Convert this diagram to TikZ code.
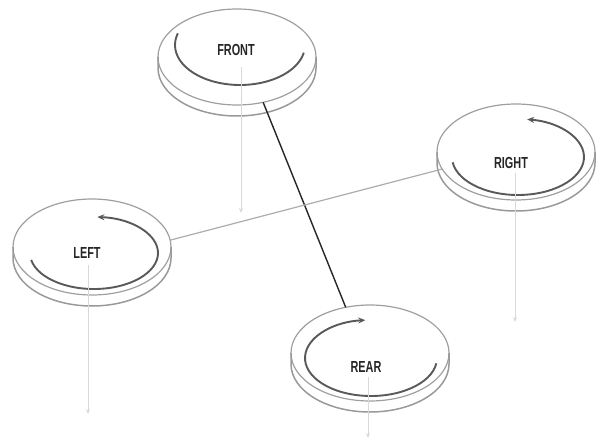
\documentclass[tikz,border=0pt]{standalone}
\usepackage{fontspec}
\setmainfont{Liberation Sans}
\usetikzlibrary{shapes.geometric,arrows.meta,calc}

\begin{document}
\begin{tikzpicture}[x=1pt,y=-1pt,
  disk/.style={ellipse, draw=gray!75, line width=1.2pt, minimum width=158pt,
    minimum height=96pt, inner sep=0pt, outer sep=0pt},
  rim/.style={draw=gray!80, line width=1.5pt},
  spin/.style={draw=gray!70!black, line width=1.9pt, -{Stealth[length=7pt,width=6pt]}},
  spinplain/.style={draw=gray!70!black, line width=1.9pt},
  tag/.style={font=\bfseries\fontsize{16}{16}\selectfont, text=black!85, inner sep=1pt},
  plumb/.style={draw=gray!30, line width=0.9pt, -{Stealth[length=5pt,width=4pt]}},
  tie/.style={draw=black!85, line width=1.4pt},
  link/.style={draw=gray!65, line width=1.2pt}]
  \useasboundingbox (0,0) rectangle (599,441);

  % wheel discs
  \node[disk] (front) at (237,57) {};
  \node[disk] (right) at (516,152) {};
  \node[disk] (left)  at (92,247)  {};
  \node[disk] (rear)  at (370,353) {};

  % lower edge of each disc (thickness)
  \foreach \w in {front,right,left,rear}{
    \draw[rim] (\w.west) -- ++(0,11)
      arc[start angle=180, end angle=0, x radius=79, y radius=48] -- (\w.east);
  }

  % labels
  \node[tag] (front-label) at (236,50)  {\scalebox{0.68}[1]{FRONT}};
  \node[tag] (right-label) at (511,163) {\scalebox{0.68}[1]{RIGHT}};
  \node[tag] (left-label)  at (87,253)  {\scalebox{0.68}[1]{LEFT}};
  \node[tag] (rear-label)  at (366,367) {\scalebox{0.68}[1]{REAR}};

  % sense of rotation
  \draw[spinplain] ($(front.center)+(3,-12)$) ++(197:65 and 40)
    arc[start angle=197, end angle=11, x radius=65, y radius=40];
  \draw[spin] ($(right.center)+(2,5)$) ++(172:66 and 38)
    arc[start angle=172, end angle=-82, x radius=66, y radius=38];
  \draw[spin] ($(left.center)+(2,6)$) ++(169:64 and 36)
    arc[start angle=169, end angle=-87, x radius=64, y radius=36];
  \draw[spin] ($(rear.center)+(1,5)$) ++(8:66 and 38)
    arc[start angle=8, end angle=265, x radius=66, y radius=38];

  % vertical load directions
  \coordinate (front-foot) at (241,213);
  \coordinate (right-foot) at (515,322);
  \coordinate (left-foot)  at (88,414);
  \coordinate (rear-foot)  at (368,438);
  \draw[plumb] (front-label.south -| front-foot) ++(0,10) -- (front-foot);
  \draw[plumb] (right-label.south -| right-foot) ++(0,3) -- (right-foot);
  \draw[plumb] (left-label.south -| left-foot) ++(0,5) -- (left-foot);
  \draw[plumb] (rear-label.south -| rear-foot) ++(0,3) -- (rear-foot);

  % axles
  \draw[tie] (front.-60) -- (rear.118);
  \draw[link] (left.5) -- (right.193);
\end{tikzpicture}
\end{document}
